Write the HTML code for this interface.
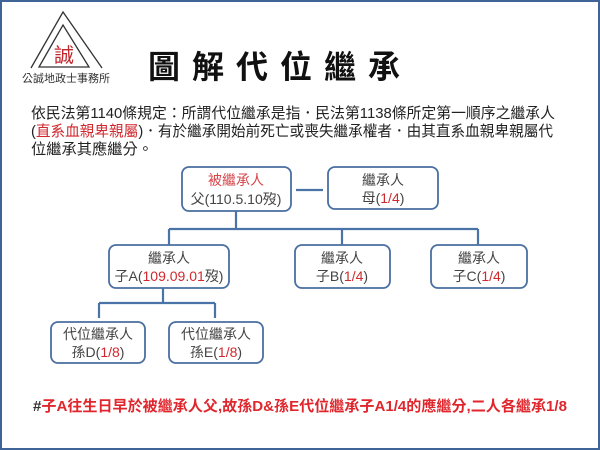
<!DOCTYPE html>
<html><head><meta charset="utf-8"><style>
html,body{margin:0;padding:0;background:#fff}
svg{display:block}
text{font-family:"Liberation Sans","Noto Sans CJK TC",sans-serif}
</style></head><body>
<svg width="600" height="450" viewBox="0 0 600 450" xmlns="http://www.w3.org/2000/svg">
<rect x="1" y="1" width="598" height="448" fill="#fff" stroke="#3f6598" stroke-width="2"/>
<!-- logo -->
<polyline points="31,68 63,12 102,68" fill="none" stroke="#333" stroke-width="1.3"/>
<polygon points="39,67 63,25 89,67" fill="none" stroke="#333" stroke-width="1.3"/>
<text x="64" y="62" font-size="20" fill="#c0272d" text-anchor="middle">誠</text>
<text x="66" y="82" font-size="11" fill="#333" text-anchor="middle">公誠地政士事務所</text>
<!-- title -->
<text x="148" y="78" font-size="32" font-weight="bold" fill="#111" letter-spacing="12">圖解代位繼承</text>
<!-- paragraph -->
<text font-size="15" fill="#222" x="31" y="118" textLength="524" lengthAdjust="spacingAndGlyphs">依民法第1140條規定：所謂代位繼承是指．民法第1138條所定第一順序之繼承人</text>
<text font-size="15" fill="#222" x="31" y="136" textLength="522" lengthAdjust="spacingAndGlyphs">(<tspan fill="#d0282e">直系血親卑親屬</tspan>)．有於繼承開始前死亡或喪失繼承權者．由其直系血親卑親屬代</text>
<text font-size="15" fill="#222" x="31" y="154" textLength="122" lengthAdjust="spacingAndGlyphs">位繼承其應繼分。</text>
<!-- connectors -->
<g stroke="#4a74a8" stroke-width="2.2" fill="none">
<line x1="296" y1="190" x2="323" y2="190"/>
<line x1="236" y1="211" x2="236" y2="229"/>
<line x1="169" y1="229" x2="478" y2="229"/>
<line x1="169" y1="229" x2="169" y2="245"/>
<line x1="342" y1="229" x2="342" y2="245"/>
<line x1="478" y1="229" x2="478" y2="245"/>
<line x1="163" y1="288" x2="163" y2="303"/>
<line x1="99" y1="303" x2="215" y2="303"/>
<line x1="99" y1="303" x2="99" y2="318"/>
<line x1="215" y1="303" x2="215" y2="318"/>
</g>
<!-- boxes -->
<g fill="#fff" stroke="#4a6fa0" stroke-width="1.8">
<rect x="182" y="167" width="109" height="44" rx="7"/>
<rect x="328" y="167" width="110" height="42" rx="7"/>
<rect x="109" y="245" width="120" height="43" rx="7"/>
<rect x="295" y="245" width="95" height="43" rx="7"/>
<rect x="431" y="245" width="96" height="43" rx="7"/>
<rect x="51" y="322" width="94" height="41" rx="7"/>
<rect x="169" y="322" width="94" height="41" rx="7"/>
</g>
<g font-size="14" fill="#444" text-anchor="middle">
<text x="236" y="185" fill="#d6454a">被繼承人</text>
<text x="236" y="204">父(110.5.10歿)</text>
<text x="383" y="185">繼承人</text>
<text x="383" y="203">母(<tspan fill="#d0282e">1/4</tspan>)</text>
<text x="169" y="263">繼承人</text>
<text x="169" y="281">子A(<tspan fill="#d0282e">109.09.01</tspan>歿)</text>
<text x="342" y="263">繼承人</text>
<text x="342" y="281">子B(<tspan fill="#d0282e">1/4</tspan>)</text>
<text x="479" y="263">繼承人</text>
<text x="479" y="281">子C(<tspan fill="#d0282e">1/4</tspan>)</text>
<text x="98" y="339">代位繼承人</text>
<text x="98" y="357">孫D(<tspan fill="#d0282e">1/8</tspan>)</text>
<text x="216" y="339">代位繼承人</text>
<text x="216" y="357">孫E(<tspan fill="#d0282e">1/8</tspan>)</text>
</g>
<text x="33" y="411" font-size="15" font-weight="bold" fill="#e0262c" textLength="534" lengthAdjust="spacingAndGlyphs"><tspan fill="#333">#</tspan>子A往生日早於被繼承人父,故孫D&amp;孫E代位繼承子A1/4的應繼分,二人各繼承1/8</text>
</svg>
</body></html>
